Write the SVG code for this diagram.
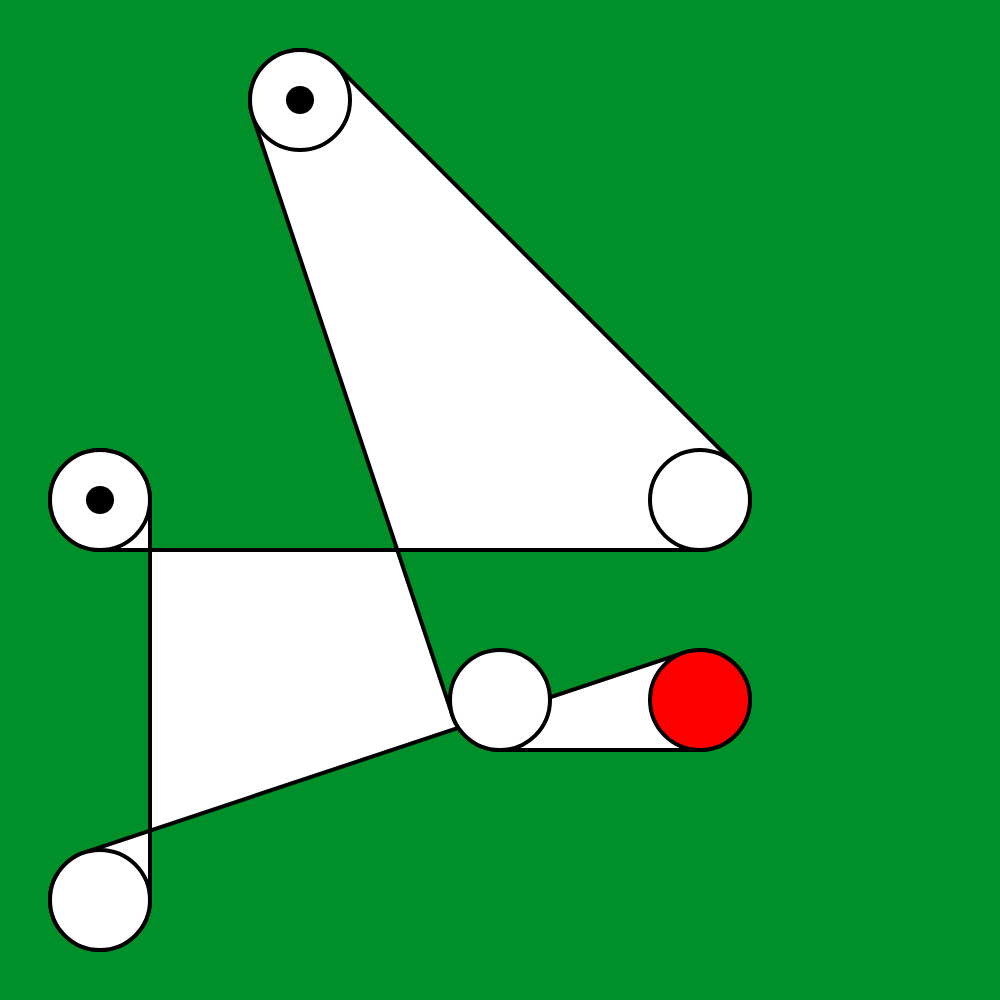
<svg xmlns="http://www.w3.org/2000/svg" width="1000" height="1000" viewBox="0 0 1000 1000">
<style>
.belt{fill:#fff;stroke:#000;stroke-width:4;stroke-linejoin:round}
.pulley{fill:#fff;stroke:#000;stroke-width:4}
.drive{fill:#f00;stroke:#000;stroke-width:4}
.axle{fill:#000}
</style>
<rect x="0" y="0" width="1000" height="1000" fill="#00902a"/>
<g id="connectors">
<path class="belt" d="M335.36,64.64 L735.36,464.64 A50,50 0 0 1 700,550 L100,550 A50,50 0 1 1 150,500 L150,900 A50,50 0 1 1 84.19,852.57 L684.19,652.57 A50,50 0 1 1 700,750 L500,750 A50,50 0 0 1 452.57,715.81 L252.57,115.81 A50,50 0 0 1 335.36,64.64 Z"/>
</g>
<g id="pulley1"><circle class="pulley" cx="300" cy="100" r="50"/><circle class="axle" cx="300" cy="100" r="14"/></g>
<g id="pulley2"><circle class="pulley" cx="700" cy="500" r="50"/></g>
<g id="pulley3"><circle class="pulley" cx="100" cy="500" r="50"/><circle class="axle" cx="100" cy="500" r="14"/></g>
<g id="pulley4"><circle class="pulley" cx="100" cy="900" r="50"/></g>
<g id="pulley5"><circle class="pulley" cx="500" cy="700" r="50"/></g>
<g id="pulley6"><circle class="drive" cx="700" cy="700" r="50"/></g>
</svg>
